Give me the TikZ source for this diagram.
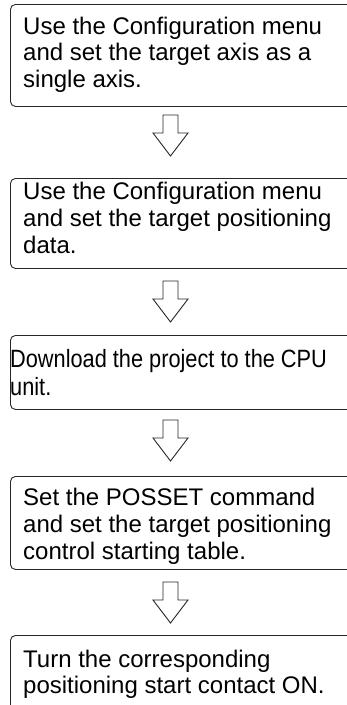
\documentclass[tikz,border=0pt]{standalone}
\usepackage{fontspec}
\setmainfont{Liberation Sans}
\usepackage{graphicx}
\begin{document}
\begin{tikzpicture}[x=1pt,y=-1pt,
  stepbox/.style={draw=black!85, line width=0.9pt, rounded corners=5pt, minimum width=360pt, anchor=north west, inner sep=0pt},
  steptext/.style={anchor=north west, inner sep=0pt, align=left, font=\fontsize{24}{26.7}\selectfont},
  condtext/.style={anchor=north west, inner sep=0pt, align=left, font=\fontsize{25}{28}\selectfont},
  blockarrow/.style={draw=black!85, line width=0.9pt, fill=white, line join=miter}]
\useasboundingbox (0,0) rectangle (347,705);
\clip (0,0) rectangle (347,705);
% boxes
\node[stepbox, minimum height=102pt] (b1) at (10,4) {};
\node[stepbox, minimum height=90pt] (b2) at (10,178) {};
\node[stepbox, minimum height=74pt] (b3) at (10,335) {};
\node[stepbox, minimum height=93pt] (b4) at (10,476) {};
\node[stepbox, minimum height=100pt] (b5) at (10,635) {};
% texts
\node[steptext] (t1) at (23,16) {\rule{0pt}{18pt}Use the Configuration menu\\and set the target axis as a\\single axis.};
\node[steptext] (t2) at (23,181.5) {\rule{0pt}{18pt}Use the Configuration menu\\and set the target positioning\\data.};
\node[condtext] (t3) at (10,349) {\rule{0pt}{18pt}\scalebox{0.87}[1]{Download the project to the CPU}\\\scalebox{0.87}[1]{unit.}};
\node[steptext] (t4) at (23,487.5) {\rule{0pt}{18pt}Set the POSSET command\\and set the target positioning\\control starting table.};
\node[steptext] (t5) at (23,649) {\rule{0pt}{18pt}Turn the corresponding\\positioning start contact ON.};
% block arrows
\foreach \n/\y in {1/115, 2/281, 3/420, 4/582}{
  \coordinate (a\n) at (170.5,\y);
  \draw[blockarrow] (a\n) ++(-7.5,0) -- ++(0,18) -- ++(-10,0) -- ++(17.5,23) -- ++(17.5,-23) -- ++(-10,0) -- ++(0,-18) -- cycle;
}
\end{tikzpicture}
\end{document}
